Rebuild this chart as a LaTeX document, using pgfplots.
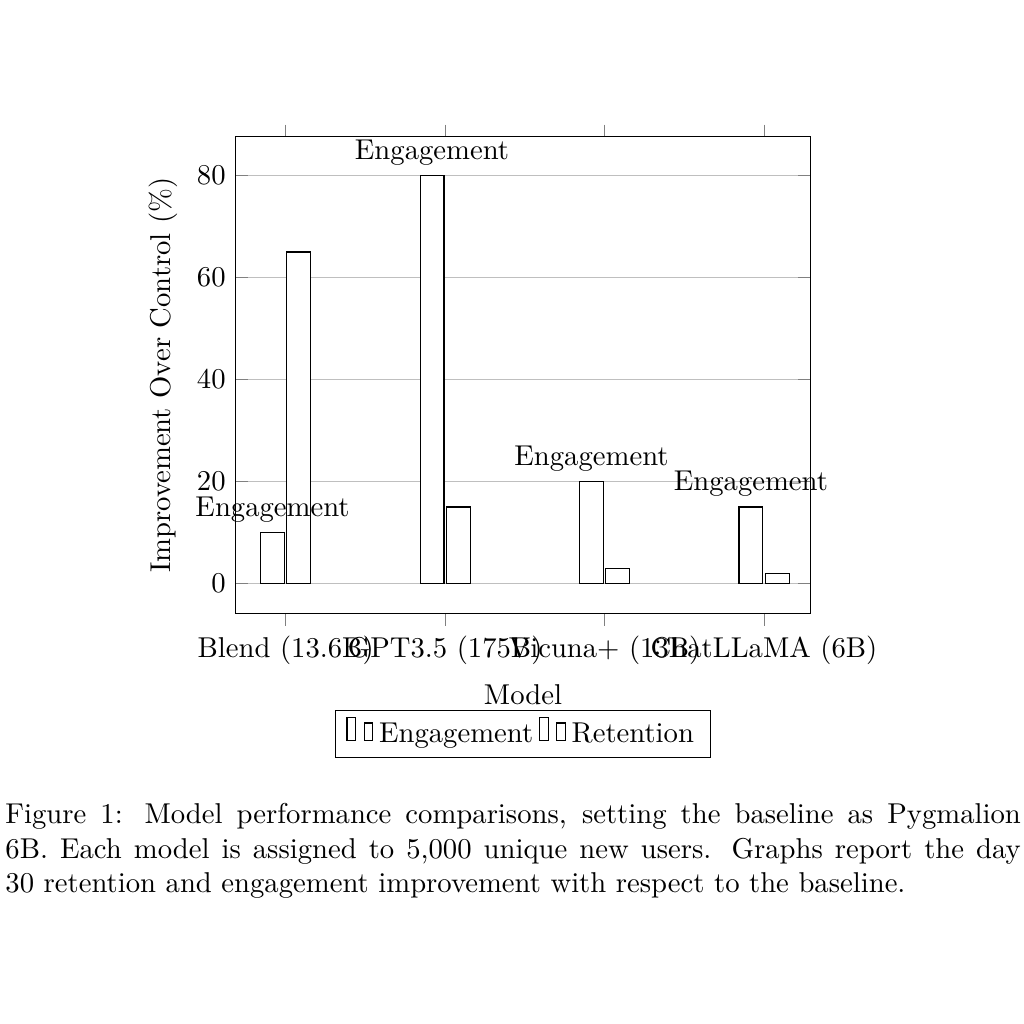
\documentclass[border=0pt]{standalone}
\usepackage{pgfplots}
\pgfplotsset{compat=1.18}
\begin{document}
\begin{tikzpicture}
\useasboundingbox (0,0) rectangle (357pt,357pt);
\begin{axis}[
  at={(82.2pt,143.1pt)}, anchor=south west,
  scale only axis, width=200.3pt, height=166.2pt,
  ybar=0.85pt, bar width=8.3pt,
  xmin=-0.313, xmax=3.29, ymin=-5.9, ymax=87.6,
  xtick={0,1,2,3},
  xticklabels={Blend (13.6B),GPT3.5 (175B),Vicuna+ (13B),ChatLLaMA (6B)},
  xtick align=outside,
  ytick={0,20,40,60,80},
  ymajorgrids,
  xlabel={Model}, ylabel={Improvement Over Control (\%)},
  legend style={at={(0.5,-0.203)},anchor=north,legend columns=-1,inner xsep=3.7pt},
]
\addplot[draw=black,fill=white,nodes near coords={Engagement}] coordinates {(0,10)(1,80)(2,20)(3,15)};
\addplot[draw=black,fill=white] coordinates {(0,65)(1,15)(2,3)(3,2)};
\legend{Engagement,Retention}
\end{axis}
\node[anchor=north west,inner sep=0pt,align=left] at (1.7pt,77pt) {\makebox[354pt][s]{Figure 1: Model performance comparisons, setting the baseline as Pygmalion}\\
\makebox[354pt][s]{6B. Each model is assigned to 5,000 unique new users. Graphs report the day}\\
30 retention and engagement improvement with respect to the baseline.};
\end{tikzpicture}
\end{document}
